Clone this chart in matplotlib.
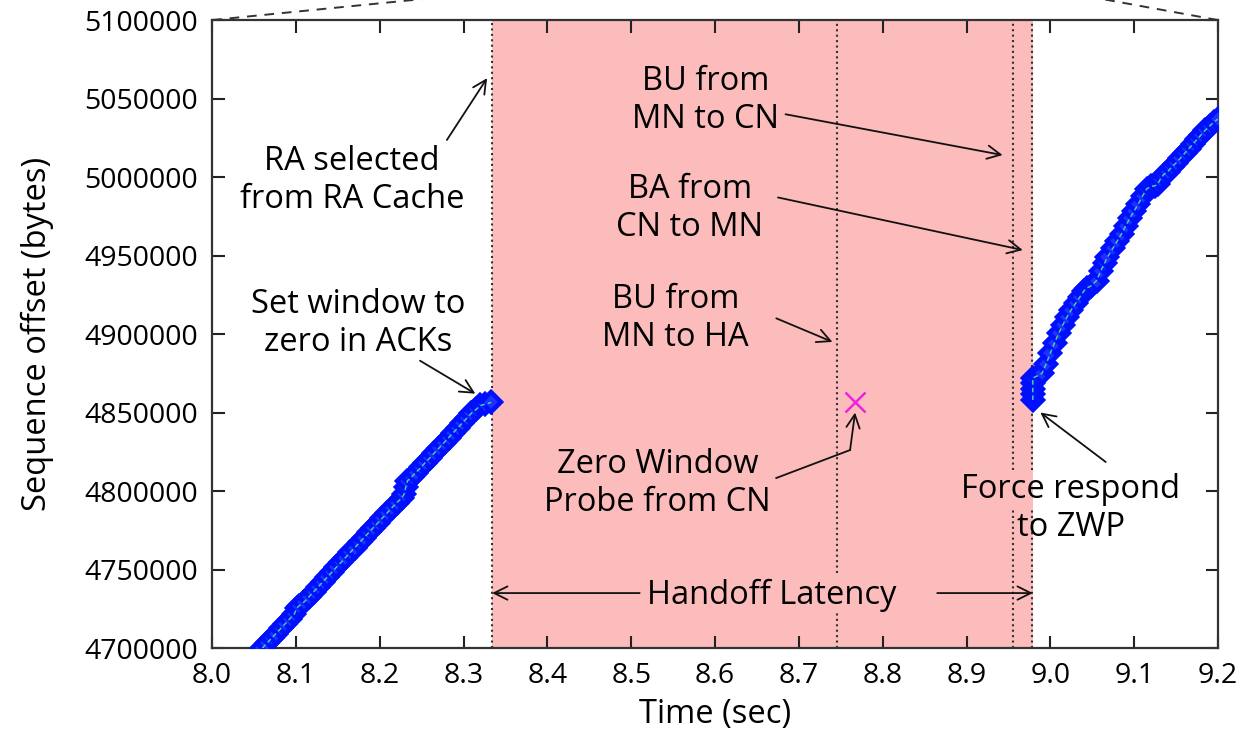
import matplotlib
matplotlib.use("Agg")
import matplotlib.pyplot as plt

plt.rcParams['font.family'] = ['Open Sans', 'DejaVu Sans']

# data
before_t = [8.060, 8.065, 8.071, 8.076, 8.082, 8.087, 8.093, 8.098, 8.101, 8.104,
            8.110, 8.115, 8.121, 8.126, 8.132, 8.137, 8.143, 8.148, 8.154, 8.159,
            8.165, 8.170, 8.176, 8.181, 8.187, 8.192, 8.198, 8.203, 8.209, 8.214,
            8.220, 8.226, 8.229, 8.231, 8.233, 8.238, 8.243, 8.249, 8.254, 8.260,
            8.265, 8.271, 8.276, 8.282, 8.287, 8.293, 8.298, 8.304, 8.309, 8.315,
            8.320, 8.326, 8.333]
before_seq = [4700000, 4702900, 4706300, 4709100, 4712500, 4715400, 4718800, 4721700, 4725500, 4727000,
              4729500, 4732400, 4735800, 4738700, 4742100, 4745000, 4748400, 4751300, 4754700, 4757600,
              4761000, 4763900, 4767300, 4770200, 4773600, 4776500, 4779900, 4782800, 4786200, 4789100,
              4792500, 4795400, 4798000, 4802500, 4806500, 4809000, 4811800, 4815000, 4818000, 4821300,
              4824200, 4827600, 4830500, 4833900, 4836800, 4840200, 4843100, 4846500, 4849400, 4852000,
              4854500, 4855300, 4856500]

after_t = [8.979, 8.979, 8.979, 8.979, 8.979, 8.985, 8.990, 8.995, 9.000, 9.005,
           9.010, 9.015, 9.020, 9.025, 9.030, 9.035, 9.040, 9.044, 9.048, 9.051,
           9.055, 9.060, 9.065, 9.068, 9.075, 9.080, 9.085, 9.090, 9.095, 9.100,
           9.105, 9.110, 9.115, 9.120, 9.125, 9.128, 9.131, 9.135, 9.140, 9.145,
           9.150, 9.155, 9.160, 9.165, 9.170, 9.175, 9.180, 9.185, 9.190, 9.195,
           9.200]
after_seq = [4858000, 4861500, 4865000, 4868500, 4872000, 4873500, 4875000, 4881000, 4888000, 4894500,
             4900500, 4906000, 4911000, 4915500, 4919500, 4923500, 4927500, 4929500, 4930500, 4932000,
             4934000, 4940000, 4945500, 4949000, 4955000, 4959500, 4964000, 4969000, 4974000, 4978500,
             4983000, 4988000, 4992500, 4994000, 4994500, 4995500, 4998500, 5001500, 5003500, 5006500,
             5009000, 5012000, 5015000, 5018000, 5021000, 5024000, 5027000, 5030000, 5032500, 5035000,
             5037000]

zwp_t, zwp_seq = 8.767, 4857000
handoff_start, handoff_end = 8.334, 8.979
event_lines = [8.334, 8.745, 8.955, 8.978]

fig = plt.figure(figsize=(12.48, 7.40), dpi=100)
ax = fig.add_axes([0.170, 0.1243, 0.806, 0.8486])

ax.axvspan(handoff_start, handoff_end, color='#fcbcbc', lw=0, zorder=0)

# dotted event lines, broken where text sits on top
dots = (0, (1, 1.6))
gaps = {8.745: (4722000, 4748000), 8.955: (4789000, 4813500), 8.978: (4789000, 4813500)}
for x in event_lines:
    if x in gaps:
        lo, hi = gaps[x]
        ax.plot([x, x], [4700000, lo], ls=dots, color='#333333', lw=1.5, zorder=1)
        ax.plot([x, x], [hi, 5100000], ls=dots, color='#333333', lw=1.5, zorder=1)
    else:
        ax.plot([x, x], [4700000, 5100000], ls=dots, color='#333333', lw=1.5, zorder=1)

for t, s in [(before_t, before_seq), (after_t, after_seq)]:
    ax.plot(t, s, ls='none', marker='D', ms=10, mfc='#2030ff', mec='#0010ff', mew=3.2, zorder=3)
    ax.plot(t, s, color='#40d0a0', lw=1.1, ls=(0, (3, 2)), zorder=4)

ax.plot([zwp_t], [zwp_seq], marker='x', ms=14, mew=1.8, color='#ee22dd', ls='none', zorder=5)

fs = 23.5
ls_ = 1.2
arrow = dict(arrowstyle='->', color='#111111', lw=1.3, mutation_scale=24, shrinkA=0, shrinkB=0)

ax.text(8.167, 4998000, 'RA selected\nfrom RA Cache', ha='center', va='center',
        fontsize=fs, linespacing=ls_)
ax.annotate('', xy=(8.328, 5063000), xytext=(8.280, 5023600), arrowprops=arrow)

ax.text(8.174, 4907000, 'Set window to\nzero in ACKs', ha='center', va='center',
        fontsize=fs, linespacing=ls_)
ax.annotate('', xy=(8.314, 4862000), xytext=(8.248, 4883000), arrowprops=arrow)

ax.text(8.589, 5048500, 'BU from\nMN to CN', ha='center', va='center', fontsize=fs, linespacing=ls_)
ax.annotate('', xy=(8.943, 5014000), xytext=(8.684, 5040000), arrowprops=arrow)

ax.text(8.570, 4980000, 'BA from\nCN to MN', ha='center', va='center', fontsize=fs, linespacing=ls_)
ax.annotate('', xy=(8.967, 4953500), xytext=(8.675, 4987000), arrowprops=arrow)

ax.text(8.553, 4910000, 'BU from\nMN to HA', ha='center', va='center', fontsize=fs, linespacing=ls_)
ax.annotate('', xy=(8.740, 4895000), xytext=(8.673, 4910000), arrowprops=arrow)

ax.text(8.531, 4805000, 'Zero Window\nProbe from CN', ha='center', va='center',
        fontsize=fs, linespacing=ls_)
ax.plot([8.673, 8.761], [4808300, 4826100], color='#111111', lw=1.3)
ax.annotate('', xy=(8.767, 4850000), xytext=(8.761, 4826100), arrowprops=arrow)

ax.text(9.024, 4789000, 'Force respond\nto ZWP', ha='center', va='center',
        fontsize=fs, linespacing=ls_)
ax.annotate('', xy=(8.988, 4850000), xytext=(9.066, 4818500), arrowprops=arrow)

ax.text(8.667, 4733500, 'Handoff Latency', ha='center', va='center', fontsize=fs)
ax.annotate('', xy=(handoff_start, 4735000), xytext=(8.510, 4735000), arrowprops=arrow)
ax.annotate('', xy=(handoff_end, 4735000), xytext=(8.865, 4735000), arrowprops=arrow)

ax.set_xlim(8.0, 9.2)
ax.set_ylim(4700000, 5100000)
ax.set_xticks([8.0, 8.1, 8.2, 8.3, 8.4, 8.5, 8.6, 8.7, 8.8, 8.9, 9.0, 9.1, 9.2])
ax.set_xticklabels(['8.0', '8.1', '8.2', '8.3', '8.4', '8.5', '8.6', '8.7', '8.8', '8.9', '9.0', '9.1', '9.2'])
ax.set_yticks(range(4700000, 5100001, 50000))
ax.set_yticklabels([str(v) for v in range(4700000, 5100001, 50000)])
ax.tick_params(direction='in', length=9, width=1.5, labelsize=20.5, top=True, right=True,
               color='#222222', pad=10)
for sp in ax.spines.values():
    sp.set_linewidth(1.6)
    sp.set_color('#333333')

ax.set_xlabel('Time (sec)', fontsize=23.5, labelpad=6)
ax.set_ylabel('Sequence offset (bytes)', fontsize=23.5, labelpad=22)

# zoom guide lines leaving the top corners
ax.plot([0.0, 0.25], [1.0, 1.04], transform=ax.transAxes, ls=(0, (5, 4)), color='#333333',
        lw=1.4, clip_on=False)
ax.plot([1.0, 0.8625], [1.0, 1.04], transform=ax.transAxes, ls=(0, (5, 4)), color='#333333',
        lw=1.4, clip_on=False)

fig.savefig('out.png', dpi=100)
